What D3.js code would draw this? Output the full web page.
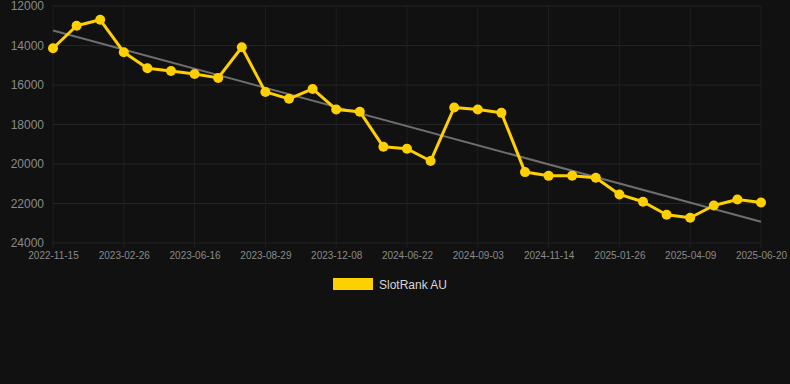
<!DOCTYPE html>
<html><head><meta charset="utf-8">
<script src="https://cdn.jsdelivr.net/npm/d3@7"></script>
<style>
html,body{margin:0;padding:0;background:#111111;}
svg{display:block;}
</style></head>
<body>
<svg id="c" width="790" height="384"></svg>
<script>
const categories = ["2022-11-15","2022-12-19","2023-01-22","2023-02-26","2023-03-28","2023-04-27","2023-06-16","2023-07-10","2023-08-04","2023-08-29","2023-10-01","2023-11-04","2023-12-08","2024-02-10","2024-04-16","2024-06-22","2024-07-16","2024-08-09","2024-09-03","2024-09-27","2024-10-21","2024-11-14","2024-12-08","2025-01-02","2025-01-26","2025-02-19","2025-03-16","2025-04-09","2025-05-03","2025-05-27","2025-06-20"];
const seriesName = "SlotRank AU";
const values = [14140,13000,12700,14340,15150,15290,15440,15640,14090,16350,16700,16200,17240,17350,19130,19230,19850,17140,17240,17410,20410,20600,20590,20700,21540,21910,22570,22720,22100,21800,21950];
const yTicks = [12000,14000,16000,18000,20000,22000,24000];
const labelEvery = 3;

const svg = d3.select("#c");
const L = 53, R = 761, T = 6, B = 243;
const x = d3.scalePoint().domain(categories).range([L, R]);
const y = d3.scaleLinear().domain([12000, 24000]).range([T, B]);
const font = "Liberation Sans, Arial, Helvetica, sans-serif";

// grid
const labeled = categories.filter((d,i)=>i%labelEvery===0);
svg.append("g").selectAll("line").data(yTicks).join("line")
  .attr("x1", L).attr("x2", R).attr("y1", d=>y(d)).attr("y2", d=>y(d))
  .attr("stroke", "#242424").attr("stroke-width", 1);
svg.append("g").selectAll("line").data(labeled).join("line")
  .attr("x1", d=>x(d)).attr("x2", d=>x(d)).attr("y1", T).attr("y2", B+5)
  .attr("stroke", "#1f1f1f").attr("stroke-width", 1);

// y axis labels
const yAxis = d3.axisLeft(y).tickValues(yTicks).tickSize(0).tickPadding(9).tickFormat(d3.format("d"));
const ga = svg.append("g").attr("transform", `translate(${L},0)`).call(yAxis);
ga.select(".domain").remove();
ga.selectAll("text").attr("fill", "#8a8a8a").style("font-family", font).style("font-size", "12px");

// x axis labels
const xAxis = d3.axisBottom(x).tickValues(labeled).tickSize(0).tickPadding(9);
const gx = svg.append("g").attr("transform", `translate(0,${B})`).call(xAxis);
gx.select(".domain").remove();
gx.selectAll("text").attr("fill", "#8a8a8a").style("font-family", font).style("font-size", "10px");

// trend line (least squares)
const n = values.length;
const idx = d3.range(n);
const mx = d3.mean(idx), my = d3.mean(values);
const slope = d3.sum(idx, i => (i-mx)*(values[i]-my)) / d3.sum(idx, i => (i-mx)*(i-mx));
const icpt = my - slope*mx;
svg.append("line")
  .attr("x1", x(categories[0])).attr("y1", y(icpt))
  .attr("x2", x(categories[n-1])).attr("y2", y(icpt + slope*(n-1)))
  .attr("stroke", "#6e6e6e").attr("stroke-width", 2);

// series line
const line = d3.line().x((d,i)=>x(categories[i])).y(d=>y(d));
svg.append("path").datum(values).attr("d", line)
  .attr("fill", "none").attr("stroke", "#FFD000").attr("stroke-width", 3).attr("stroke-linejoin", "round");
svg.append("g").selectAll("circle").data(values).join("circle")
  .attr("cx", (d,i)=>x(categories[i])).attr("cy", d=>y(d)).attr("r", 5)
  .attr("fill", "#FFD000");

// legend
const lg = svg.append("g");
lg.append("rect").attr("x", 333).attr("y", 278).attr("width", 40).attr("height", 12).attr("fill", "#FFD000");
lg.append("text").attr("x", 379).attr("y", 288.5).text(seriesName)
  .attr("fill", "#d6d6d6").style("font-family", font).style("font-size", "12px");
</script>
</body></html>
